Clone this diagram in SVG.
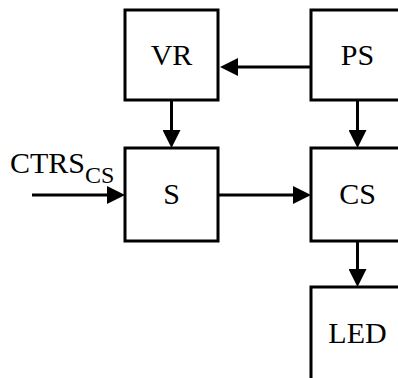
<svg xmlns="http://www.w3.org/2000/svg" width="398" height="378" viewBox="0 0 398 378">
<style>
.box{fill:#fff;stroke:#000;stroke-width:3}
.lbl{font-family:"Liberation Serif","Times New Roman",serif;font-size:30px;fill:#000;text-anchor:middle}
.sub{font-size:24px}
.conn{stroke:#000;stroke-width:3;fill:none;marker-end:url(#ah)}
</style>
<defs>
<marker id="ah" markerUnits="userSpaceOnUse" markerWidth="18" markerHeight="18" viewBox="0 0 18 18" refX="0" refY="9" orient="auto">
<path d="M0,0 L18,9 L0,18 z" fill="#000"/>
</marker>
</defs>
<g id="connectors">
<path class="conn" d="M311,67 H238"/>
<path class="conn" d="M171.5,100 V130"/>
<path class="conn" d="M357.5,100 V130"/>
<path class="conn" d="M32,195 H107"/>
<path class="conn" d="M218,195 H293"/>
<path class="conn" d="M357.5,241 V269"/>
</g>
<g id="VR"><rect class="box" x="125" y="10" width="93" height="90"/><text class="lbl" x="171.5" y="65">VR</text></g>
<g id="PS"><rect class="box" x="311" y="10" width="93" height="90"/><text class="lbl" x="357.5" y="65">PS</text></g>
<g id="S"><rect class="box" x="125" y="148" width="93" height="93"/><text class="lbl" x="171.5" y="204">S</text></g>
<g id="CS"><rect class="box" x="311" y="148" width="93" height="93"/><text class="lbl" x="357.5" y="204">CS</text></g>
<g id="LED"><rect class="box" x="311" y="287" width="93" height="100"/><text class="lbl" x="357.5" y="343">LED</text></g>
<g id="CTRS"><text class="lbl" x="10" y="173" style="text-anchor:start">CTRS<tspan class="sub" dy="10">CS</tspan></text></g>
</svg>
